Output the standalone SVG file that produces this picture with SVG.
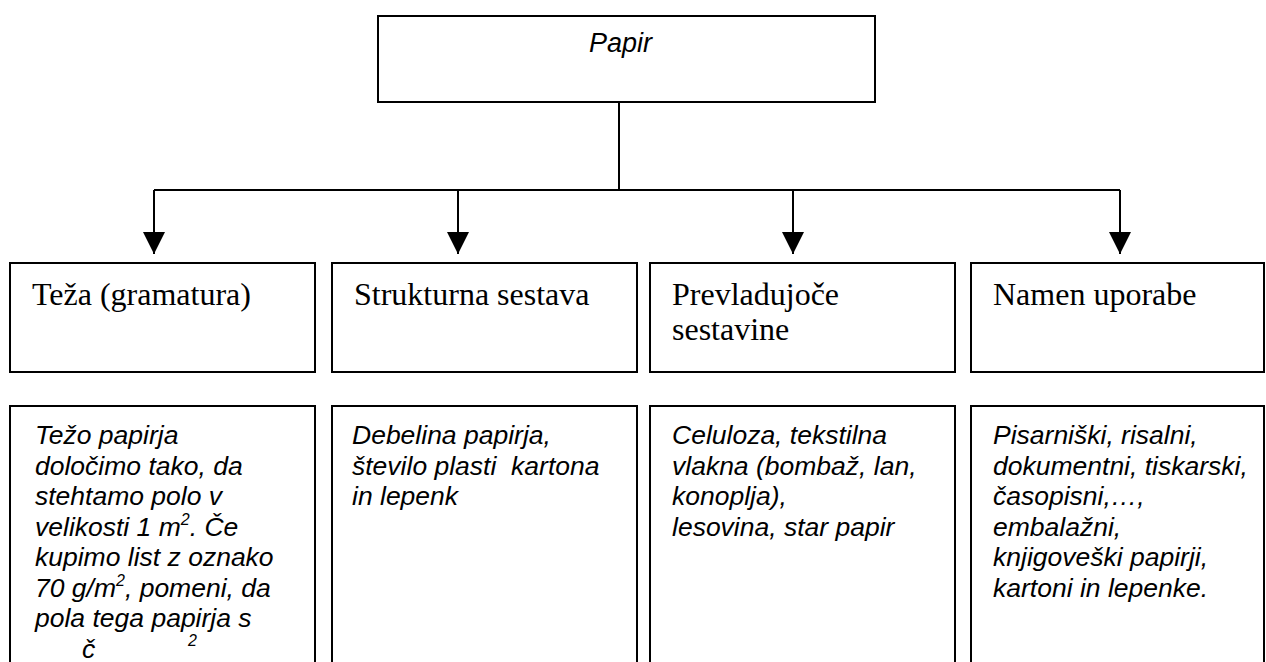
<svg xmlns="http://www.w3.org/2000/svg" width="1266" height="662" viewBox="0 0 1266 662">
  <style>
    .box { fill: #ffffff; stroke: #000000; stroke-width: 2; }
    .wire { fill: none; stroke: #000000; stroke-width: 2; }
    .head { font-family: "Liberation Serif", "Times New Roman", serif; font-size: 32px; fill: #000000; }
    .body { font-family: "Liberation Sans", Arial, sans-serif; font-size: 26.5px; font-style: italic; fill: #000000; }
    .sup { font-size: 16px; }
  </style>
  <defs>
    <marker id="arrow" markerUnits="userSpaceOnUse" markerWidth="22" markerHeight="22" refX="22" refY="11" orient="auto">
      <path d="M0,0 L22,11 L0,22 z" fill="#000000"/>
    </marker>
  </defs>

  <rect width="1266" height="662" fill="#ffffff"/>

  <!-- root -->
  <g id="papir">
    <rect class="box" x="378" y="16" width="497" height="86"/>
    <text class="body" x="589" y="52" style="font-size:27px">Papir</text>
  </g>

  <!-- connectors from the root to the four categories -->
  <g id="connectors">
    <path class="wire" d="M619,102 V190 M154,190 H1120"/>
    <line class="wire" x1="154" y1="190" x2="154" y2="254" marker-end="url(#arrow)"/>
    <line class="wire" x1="458" y1="190" x2="458" y2="254" marker-end="url(#arrow)"/>
    <line class="wire" x1="793" y1="190" x2="793" y2="254" marker-end="url(#arrow)"/>
    <line class="wire" x1="1120" y1="190" x2="1120" y2="254" marker-end="url(#arrow)"/>
  </g>

  <!-- category headers -->
  <g id="teza">
    <rect class="box" x="10" y="263" width="305" height="109"/>
    <text class="head" x="32" y="305">Teža (gramatura)</text>
  </g>
  <g id="struktura">
    <rect class="box" x="332" y="263" width="305" height="109"/>
    <text class="head" x="354" y="305">Strukturna sestava</text>
  </g>
  <g id="sestavine">
    <rect class="box" x="650" y="263" width="305" height="109"/>
    <text class="head" x="672" y="305">Prevladujoče</text>
    <text class="head" x="672" y="340">sestavine</text>
  </g>
  <g id="namen">
    <rect class="box" x="971" y="263" width="293" height="109"/>
    <text class="head" x="993" y="305">Namen uporabe</text>
  </g>

  <!-- descriptions -->
  <g id="teza-opis">
    <rect class="box" x="10" y="406" width="305" height="280"/>
    <text class="body" x="35" y="444">Težo papirja</text>
    <text class="body" x="35" y="474.5">določimo tako, da</text>
    <text class="body" x="35" y="505">stehtamo polo v</text>
    <text class="body" x="35" y="535.5">velikosti 1 m<tspan class="sup" dy="-11">2</tspan><tspan dy="11">. Če</tspan></text>
    <text class="body" x="35" y="566">kupimo list z oznako</text>
    <text class="body" x="35" y="596.5">70 g/m<tspan class="sup" dy="-11">2</tspan><tspan dy="11">, pomeni, da</tspan></text>
    <text class="body" x="35" y="627">pola tega papirja s</text>
    <text class="body" x="82" y="658">č</text>
    <text class="body sup" x="188" y="646">2</text>
  </g>
  <g id="struktura-opis">
    <rect class="box" x="332" y="406" width="305" height="280"/>
    <text class="body" x="352" y="444">Debelina papirja,</text>
    <text class="body" x="352" y="474.5" xml:space="preserve">število plasti  kartona</text>
    <text class="body" x="352" y="505">in lepenk</text>
  </g>
  <g id="sestavine-opis">
    <rect class="box" x="650" y="406" width="305" height="280"/>
    <text class="body" x="672" y="444">Celuloza, tekstilna</text>
    <text class="body" x="672" y="474.5">vlakna (bombaž, lan,</text>
    <text class="body" x="672" y="505">konoplja),</text>
    <text class="body" x="672" y="535.5">lesovina, star papir</text>
  </g>
  <g id="namen-opis">
    <rect class="box" x="971" y="406" width="293" height="280"/>
    <text class="body" x="993" y="444">Pisarniški, risalni,</text>
    <text class="body" x="993" y="474.5">dokumentni, tiskarski,</text>
    <text class="body" x="993" y="505">časopisni,…,</text>
    <text class="body" x="993" y="535.5">embalažni,</text>
    <text class="body" x="993" y="566">knjigoveški papirji,</text>
    <text class="body" x="993" y="596.5">kartoni in lepenke.</text>
  </g>
</svg>
